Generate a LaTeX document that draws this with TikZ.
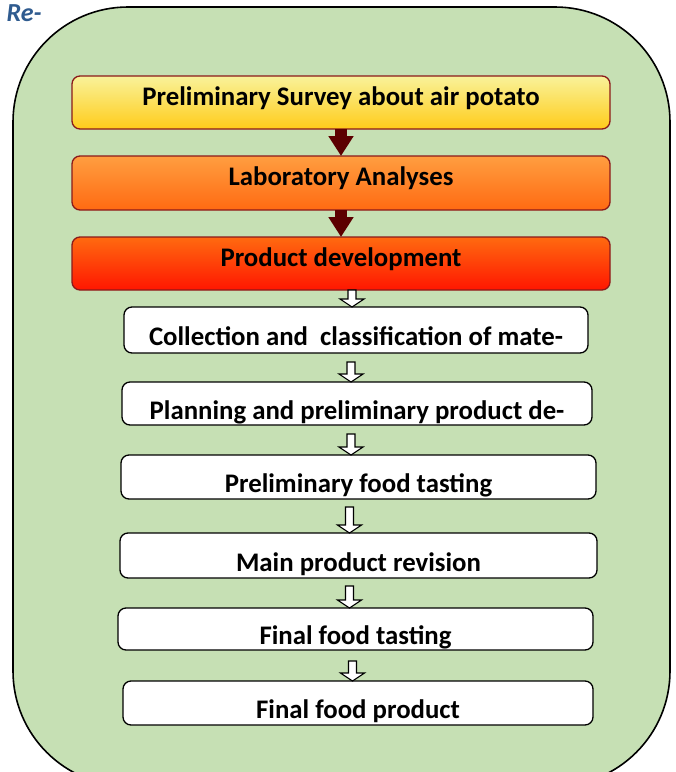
\documentclass[tikz,border=0pt]{standalone}
\usepackage{fontspec}
\setmainfont{Carlito}
\usepackage{tikz}
\usetikzlibrary{positioning, calc, arrows.meta}
\definecolor{framegreen}{HTML}{C6E0B4}
\definecolor{boxedge}{HTML}{8B1A1A}
\definecolor{darkhead}{HTML}{5C0000}
\definecolor{noteblue}{HTML}{2F5B8F}
\definecolor{yellowtop}{HTML}{F9F29A}
\definecolor{yellowbot}{HTML}{FFCC1A}
\definecolor{orangetop}{HTML}{FF9E40}
\definecolor{orangebot}{HTML}{FF6A12}
\definecolor{redtop}{HTML}{FF6A10}
\definecolor{redbot}{HTML}{FF1600}
\tikzstyle{stage} = [rectangle, rounded corners=8pt, minimum width=538pt, minimum height=53pt, inner sep=0pt, outer sep=0pt, text height=5pt, text depth=0pt, text centered, draw=boxedge, line width=1.3pt, font=\fontsize{26.8}{30}\selectfont\bfseries]
\tikzstyle{stepbox} = [rectangle, rounded corners=8pt, minimum height=44pt, inner sep=0pt, outer sep=0pt, text height=31pt, text depth=0pt, text centered, draw=black, fill=white, line width=1.3pt, font=\fontsize{26.8}{30}\selectfont\bfseries]
\tikzstyle{darkarrow} = [line width=12pt, draw=darkhead, -{Triangle[width=24pt,length=20pt]}]
\tikzstyle{hollow} = [draw=black, fill=white, line width=1.1pt, to path={let \p1=(\tikztostart), \p2=(\tikztotarget) in (\x1-4pt,\y1) -- (\x1+4pt,\y1) -- (\x1+4pt,\y2+8pt) -- (\x1+12pt,\y2+8pt) -- (\x1,\y2) -- (\x1-12pt,\y2+8pt) -- (\x1-4pt,\y2+8pt) -- cycle}]

\begin{document}
\begin{tikzpicture}[x=1pt, y=-1pt, node distance=27pt]
        \useasboundingbox (0,0) rectangle (676,772);
        \clip (0,0) rectangle (676,772);
        \draw[fill=framegreen, line width=1.6pt, rounded corners=115pt] (13,7) rectangle (670,786);
        \node[anchor=west, text=noteblue, font=\fontsize{26}{28}\selectfont\bfseries\itshape] (note) at (3,13) {Re-};

        \node[stage, top color=yellowtop, bottom color=yellowbot]                     (survey)  at (341,102.5) {Preliminary Survey about air potato};
        \node[stage, minimum height=54pt, top color=orangetop, bottom color=orangebot, below=of survey] (lab) {Laboratory Analyses};
        \node[stage, top color=redtop, bottom color=redbot, below=of lab]              (develop) {Product development};

        \node[stepbox, minimum width=464pt, minimum height=46pt, below=17pt of develop, xshift=15pt] (collect) {Collection and\ \ classification of mate-};
        \node[stepbox, minimum width=470pt, minimum height=43pt, below=29pt of collect, xshift=1pt]  (plan)    {Planning and preliminary product de-};
        \node[stepbox, minimum width=475pt, minimum height=44pt, below=30pt of plan, xshift=1.5pt]   (taste 1) {Preliminary food tasting};
        \node[stepbox, minimum width=477pt, minimum height=45pt, below=34pt of taste 1]             (revise)  {Main product revision};
        \node[stepbox, minimum width=475pt, minimum height=42pt, below=30pt of revise, xshift=-3pt]  (taste 2) {Final food tasting};
        \node[stepbox, minimum width=470pt, minimum height=44pt, below=31pt of taste 2, xshift=2.5pt] (product) {Final food product};

        \draw[darkarrow] (survey.south) -- (lab.north);
        \draw[darkarrow] (lab.south) -- (develop.north);
        \draw[hollow] ([xshift=11pt]develop.south) to (collect.north);
        \draw[hollow] ([xshift=-5pt,yshift=-9pt]collect.south) to (plan.north);
        \draw[hollow] ([xshift=-6pt,yshift=-9pt]plan.south) to (taste 1.north);
        \draw[hollow] ([xshift=-9pt,yshift=-8pt]taste 1.south) to (revise.north);
        \draw[hollow] ([xshift=-9pt,yshift=-8pt]revise.south) to (taste 2.north);
        \draw[hollow] ([xshift=-3pt,yshift=-11pt]taste 2.south) to (product.north);
    \end{tikzpicture}
\end{document}
